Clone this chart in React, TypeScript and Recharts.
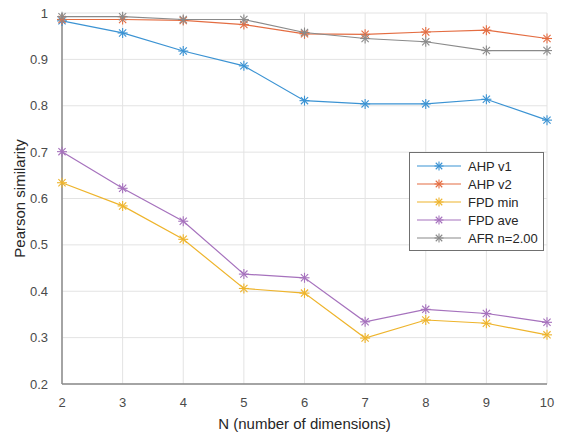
import { LineChart, Line, XAxis, YAxis, CartesianGrid } from 'recharts';

const dims = [2, 3, 4, 5, 6, 7, 8, 9, 10];
const ahpV1 = [0.983, 0.957, 0.918, 0.886, 0.811, 0.804, 0.804, 0.814, 0.769];
const ahpV2 = [0.986, 0.986, 0.984, 0.975, 0.955, 0.954, 0.959, 0.963, 0.945];
const fpdMin = [0.634, 0.584, 0.512, 0.406, 0.396, 0.299, 0.338, 0.331, 0.306];
const fpdAve = [0.701, 0.622, 0.551, 0.437, 0.429, 0.334, 0.361, 0.352, 0.333];
const afr = [0.992, 0.992, 0.986, 0.986, 0.958, 0.945, 0.938, 0.919, 0.919];

const xTicks = [2, 3, 4, 5, 6, 7, 8, 9, 10];
const yTicks = [0.2, 0.3, 0.4, 0.5, 0.6, 0.7, 0.8, 0.9, 1];

const series = [
  { key: 'ahpV1', name: 'AHP v1', color: '#3b93d3' },
  { key: 'ahpV2', name: 'AHP v2', color: '#e46d42' },
  { key: 'fpdMin', name: 'FPD min', color: '#eeb42c' },
  { key: 'fpdAve', name: 'FPD ave', color: '#a672bd' },
  { key: 'afr', name: 'AFR n=2.00', color: '#8a8a8a' },
];

const data = dims.map((n, i) => ({
  n,
  ahpV1: ahpV1[i],
  ahpV2: ahpV2[i],
  fpdMin: fpdMin[i],
  fpdAve: fpdAve[i],
  afr: afr[i],
}));

const FONT = 'Liberation Sans, Arial, sans-serif';

// matlab-style '*' marker
function Star({ cx, cy, color, r = 5 }: { cx: number; cy: number; color: string; r?: number }) {
  const d = r * 0.72;
  return (
    <g stroke={color} strokeWidth={1.1}>
      <line x1={cx - r} y1={cy} x2={cx + r} y2={cy} />
      <line x1={cx} y1={cy - r} x2={cx} y2={cy + r} />
      <line x1={cx - d} y1={cy - d} x2={cx + d} y2={cy + d} />
      <line x1={cx - d} y1={cy + d} x2={cx + d} y2={cy - d} />
    </g>
  );
}

function LegendBox() {
  return (
    <div
      style={{
        position: 'absolute',
        left: 409,
        top: 152,
        width: 133,
        border: '1.5px solid #707070',
        background: '#fff',
        padding: '4px 0 3px 0',
        fontFamily: FONT,
        fontSize: 13,
        color: '#262626',
      }}
    >
      {series.map((s) => (
        <div key={s.key} style={{ display: 'flex', alignItems: 'center', height: 18 }}>
          <svg width={58} height={18}>
            <line x1={7} y1={9} x2={51} y2={9} stroke={s.color} strokeWidth={1.2} />
            <Star cx={29} cy={9} color={s.color} r={4.5} />
          </svg>
          <span>{s.name}</span>
        </div>
      ))}
    </div>
  );
}

export default function App() {
  const tick = { fontSize: 13, fill: '#4a4a4a', fontFamily: FONT };
  return (
    <div style={{ position: 'absolute', left: 0, top: 0, width: 561, height: 434, background: '#fff' }}>
      <LineChart width={561} height={434} data={data} margin={{ top: 13, right: 14, bottom: 0, left: 0 }}>
        <CartesianGrid stroke="#e3e3e3" strokeWidth={1} />
        <XAxis
          dataKey="n"
          type="number"
          domain={[2, 10]}
          ticks={xTicks}
          tick={tick}
          tickLine={false}
          axisLine={{ stroke: '#8a8a8a', strokeWidth: 1.5 }}
          tickMargin={8}
          height={50}
          label={{
            value: 'N (number of dimensions)',
            position: 'insideBottom',
            offset: 5,
            style: { fontSize: 15, fill: '#262626', fontFamily: FONT },
          }}
        />
        <YAxis
          type="number"
          domain={[0.2, 1]}
          ticks={yTicks}
          tick={tick}
          tickFormatter={(v: number) => (v === 1 ? '1' : v.toFixed(1))}
          tickLine={false}
          axisLine={{ stroke: '#8a8a8a', strokeWidth: 1.5 }}
          width={62}
          tickMargin={8}
          label={{
            value: 'Pearson similarity',
            angle: -90,
            position: 'insideLeft',
            offset: 20,
            style: { textAnchor: 'middle', fontSize: 15, fill: '#262626', fontFamily: FONT },
          }}
        />
        {series.map((s) => (
          <Line
            key={s.key}
            dataKey={s.key}
            name={s.name}
            stroke={s.color}
            strokeWidth={1.2}
            isAnimationActive={false}
            dot={(p: any) => <Star key={`${s.key}-${p.index}`} cx={p.cx} cy={p.cy} color={s.color} />}
            activeDot={false}
          />
        ))}
      </LineChart>
      <LegendBox />
    </div>
  );
}
